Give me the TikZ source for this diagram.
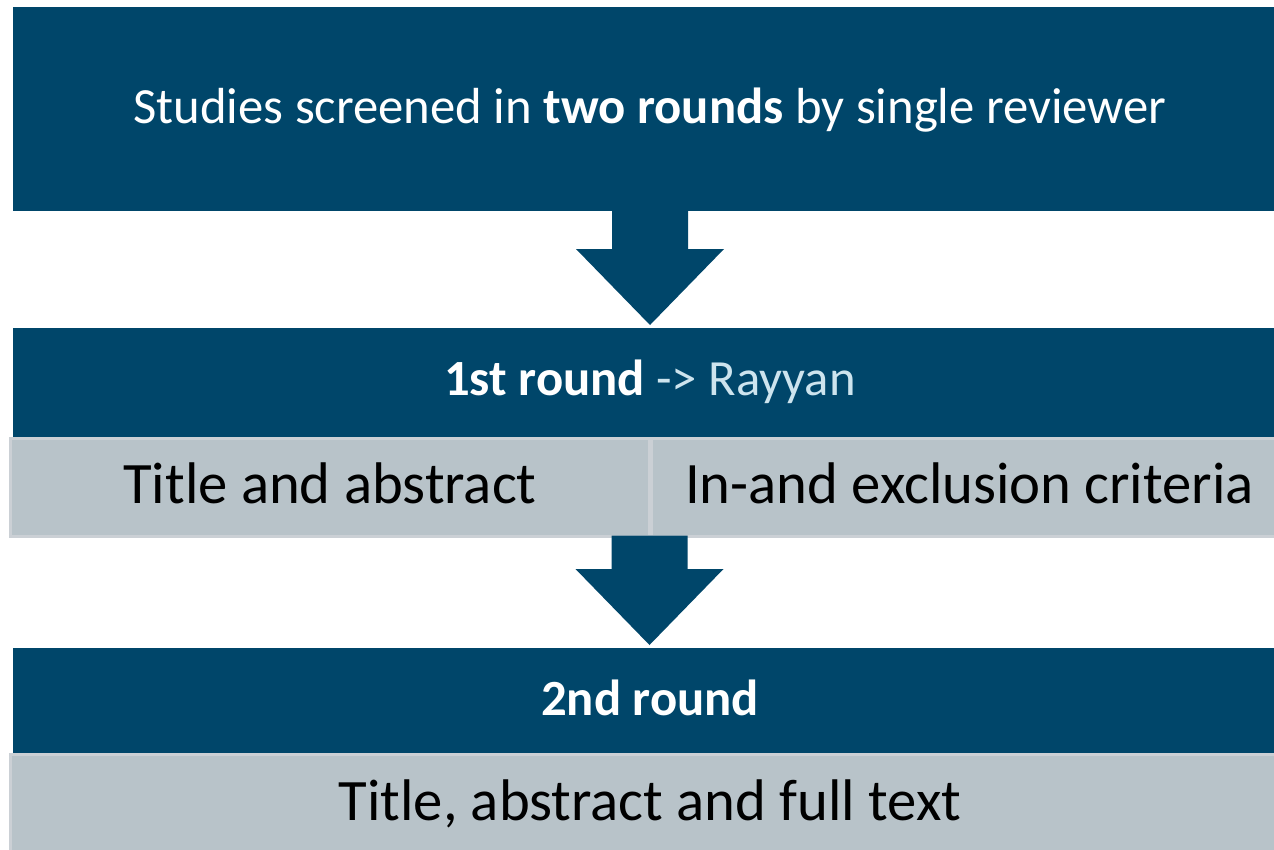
\documentclass[tikz,border=0pt]{standalone}
\usepackage{fontspec}
\setmainfont{Carlito}
\usetikzlibrary{calc}
\definecolor{navy}{HTML}{00466A}
\definecolor{cellgrey}{HTML}{B8C3C9}
\definecolor{cellrim}{HTML}{CBD0D5}
\definecolor{toolblue}{HTML}{CDE4EE}
\tikzset{
  bar/.style={fill=navy, text=white, inner sep=0pt, outer sep=0pt, anchor=north west},
  cell/.style={fill=cellgrey, draw=cellrim, line width=3pt, text=black, inner sep=0pt, outer sep=0pt, anchor=north west},
  bartext/.style={text=white, anchor=base, inner sep=0pt, font=\fontsize{50.7}{60}\selectfont},
  celltext/.style={text=black, anchor=base, inner sep=0pt, font=\fontsize{58.7}{70}\selectfont},
}
% block arrow from anchor #1 down to a point just above node #2
\newcommand{\downarrowblock}[2]{%
  \fill[navy] let \p1=(#1), \p2=($(#2.north)+(0,-3)$) in
    (\x1-38pt,\y1+1pt) -- (\x1-38pt,\y2+76pt) -- (\x1-74pt,\y2+76pt) -- (\x1,\y2)
    -- (\x1+74pt,\y2+76pt) -- (\x1+38pt,\y2+76pt) -- (\x1+38pt,\y1+1pt) -- cycle;}
\begin{document}
\begin{tikzpicture}[x=1pt,y=-1pt]
\useasboundingbox[fill=white] (0,0) rectangle (1274,849);
\begin{scope}
\clip (0,0) rectangle (1274,849);
% header
\node[bar, minimum width=1274pt, minimum height=204pt] (head) at (13,7) {};
\node[bartext] (headtxt) at (650,123)
  {Studies screened in \textbf{two rounds} by single reviewer};
% first round
\node[bar, minimum width=1274pt, minimum height=109pt] (r1) at (13,328) {};
\node[bartext] (r1txt) at (650,395)
  {\textbf{1st round} \textcolor{toolblue}{-> Rayyan}};
\node[cell, minimum width=639pt, minimum height=98pt] (c1) at (10.5,438.5) {};
\node[celltext] (c1txt) at (330,503) {Title and abstract};
\node[cell, minimum width=639pt, minimum height=98pt] (c2) at (651.5,438.5) {};
\node[celltext] (c2txt) at (969.5,503) {In-and exclusion criteria};
% second round
\node[bar, minimum width=1274pt, minimum height=105pt] (r2) at (13,648) {};
\node[bartext] (r2txt) at (650,715) {\textbf{2nd round}};
\node[cell, minimum width=1280pt, minimum height=120pt] (c3) at (10.5,754.5) {};
\node[celltext] (c3txt) at (650,820) {Title, abstract and full text};
% arrows
\coordinate (a1) at (head.south -| 650,0);
\coordinate (a2) at (c1.south east);
\downarrowblock{a1}{r1}
\downarrowblock{a2}{r2}
\end{scope}
\end{tikzpicture}
\end{document}
